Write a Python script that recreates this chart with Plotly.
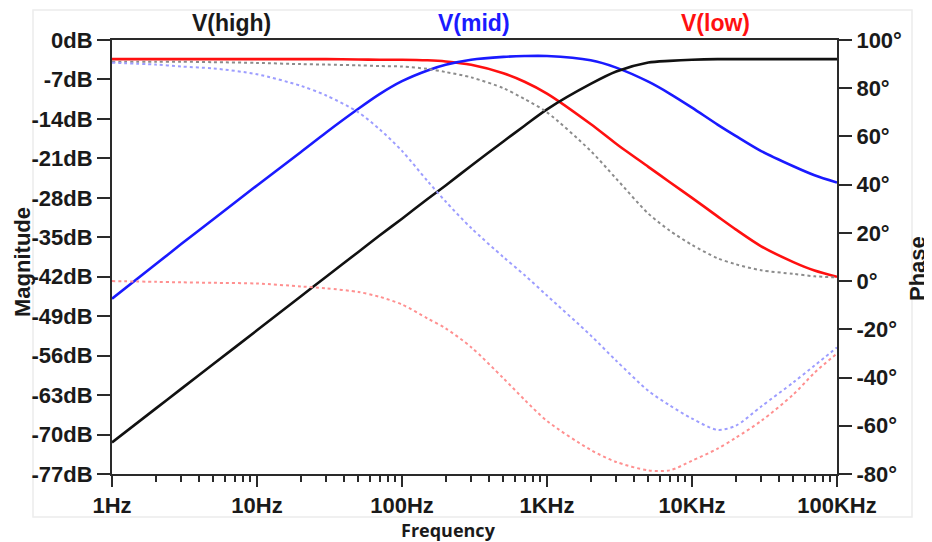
import plotly.graph_objects as go

# ---------------- data ----------------
freq = [1, 2, 3, 5, 10, 20, 30, 50, 70, 100, 150, 200, 300, 500, 700, 1000, 2000, 3000,
        5000, 7000, 10000, 15000, 20000, 30000, 50000, 70000, 100000]

# magnitudes (dB, left axis)
high_mag = [-71.4, -65.4, -61.9, -57.5, -51.5, -45.5, -42.0, -37.6, -34.7, -31.7, -28.2, -25.8,
            -22.3, -18.0, -15.2, -12.3, -7.8, -5.6, -4.0, -3.7, -3.5, -3.4, -3.4, -3.4, -3.4,
            -3.4, -3.4]
mid_mag = [-45.9, -39.8, -36.2, -31.8, -25.8, -19.9, -16.4, -12.2, -9.6, -7.3, -5.4, -4.4,
           -3.5, -3.0, -2.85, -2.85, -3.6, -4.9, -7.4, -9.5, -12.0, -15.0, -17.0, -19.7, -22.4,
           -24.0, -25.3]
low_mag = [-3.4, -3.4, -3.4, -3.4, -3.4, -3.4, -3.4, -3.45, -3.5, -3.5, -3.6, -3.8, -4.4,
           -5.9, -7.4, -9.5, -14.9, -18.4, -22.5, -25.2, -28.0, -31.3, -33.6, -36.6, -39.4,
           -40.9, -42.0]

# phases (degrees, right axis)
high_ph = [91.0, 91.0, 91.0, 90.8, 90.5, 90.0, 89.8, 89.5, 89.2, 89.0, 88.0, 86.7, 84.5,
           80.0, 75.5, 70.0, 54.0, 42.5, 28.0, 21.0, 15.0, 9.5, 7.0, 4.5, 3.0, 2.0, 1.5]
mid_ph = [90.6, 89.8, 89.0, 88.2, 85.8, 81.0, 77.0, 70.0, 63.0, 54.0, 41.5, 33.0, 22.0,
          10.0, 2.5, -6.0, -22.5, -33.0, -45.5, -51.5, -57.0, -61.7, -60.0, -52.0, -42.0,
          -35.0, -27.5]
low_ph = [0.0, -0.3, -0.5, -0.7, -1.0, -2.2, -3.0, -4.5, -6.5, -9.7, -15.5, -19.6, -27.4,
          -40.3, -49.2, -58.0, -70.0, -75.0, -78.5, -78.5, -74.5, -69.5, -65.0, -58.0, -47.0,
          -38.0, -30.0]

x_tickvals = [1, 10, 100, 1000, 10000, 100000]
x_ticktext = ["1Hz", "10Hz", "100Hz", "1KHz", "10KHz", "100KHz"]
x_minor = [m * d for d in [1, 10, 100, 1000, 10000] for m in range(2, 10)]
mag_ticks = list(range(-77, 1, 7))
mag_labels = [f"{v}dB" for v in mag_ticks]
ph_ticks = list(range(-80, 101, 20))
ph_labels = [f"{v}°" for v in ph_ticks]

# ---------------- figure ----------------
fig = go.Figure()

def add(y, color, dash, axis, width):
    fig.add_trace(go.Scatter(x=freq, y=y, mode="lines", yaxis=axis,
                             line=dict(color=color, width=width, dash=dash,
                                       shape="spline", smoothing=0.8),
                             showlegend=False, hoverinfo="skip"))

add(high_ph, "#8c8c8c", "dot", "y2", 2)
add(mid_ph, "#9d9dff", "dot", "y2", 2)
add(low_ph, "#ff9090", "dot", "y2", 2)
add(low_mag, "#ff1010", "solid", "y", 2.6)
add(mid_mag, "#1a1aff", "solid", "y", 2.6)
add(high_mag, "#111111", "solid", "y", 2.6)

tickfont = dict(family="Liberation Sans, Arial", size=22, color="#1a1a1a", weight="bold")
axline = dict(showline=True, linecolor="#2a2a2a", linewidth=2, showgrid=False,
              zeroline=False, ticks="outside", tickcolor="#2a2a2a", tickwidth=2)

# the page body has an 8px margin, so the margins are shifted to compensate
fig.update_layout(
    width=932, height=542, autosize=False,
    margin=dict(l=104, r=103, t=32, b=76),
    paper_bgcolor="white", plot_bgcolor="white",
    xaxis=dict(type="log", range=[0, 5], tickvals=x_tickvals, ticktext=x_ticktext,
               ticklen=11, mirror=True, tickfont=tickfont,
               minor=dict(tickmode="array", tickvals=x_minor, ticks="outside",
                          ticklen=6, tickwidth=2, tickcolor="#2a2a2a", showgrid=False),
               **axline),
    yaxis=dict(range=[-77, 0], tickvals=mag_ticks, ticktext=mag_labels, ticklen=13,
               tickfont=tickfont, **axline),
    yaxis2=dict(range=[-80, 100], tickvals=ph_ticks, ticktext=ph_labels, ticklen=13,
                overlaying="y", side="right", tickfont=tickfont, **axline),
)

W, H, L, T = 725.0, 434.0, 112.0, 40.0
def px(x):
    return (x - L) / W
def py(y):
    return (T + H - y) / H

fig.add_shape(type="rect", xref="paper", yref="paper", x0=px(33), x1=px(912),
              y0=py(517), y1=py(10), line=dict(color="#ececec", width=1.5), layer="below")

def ann(text, x, y, color="#1a1a1a", angle=0, size=22, family="Liberation Sans, Arial"):
    fig.add_annotation(text=text, xref="paper", yref="paper", x=px(x), y=py(y),
                       showarrow=False, textangle=angle, xanchor="center", yanchor="middle",
                       font=dict(family=family, size=size, color=color, weight="bold"))

ann("V(high)", 231, 23, "#1a1a1a", size=23)
ann("V(mid)", 474, 23, "#1a1aff", size=23)
ann("V(low)", 715, 23, "#ff1010", size=23)
ann("Magnitude", 22, 262, angle=-90, size=22)
ann("Phase", 917, 269, angle=-90, size=22)
ann("Frequency", 448, 530, size=18, family="Open Sans, Liberation Sans")

fig.write_html("out.html")
